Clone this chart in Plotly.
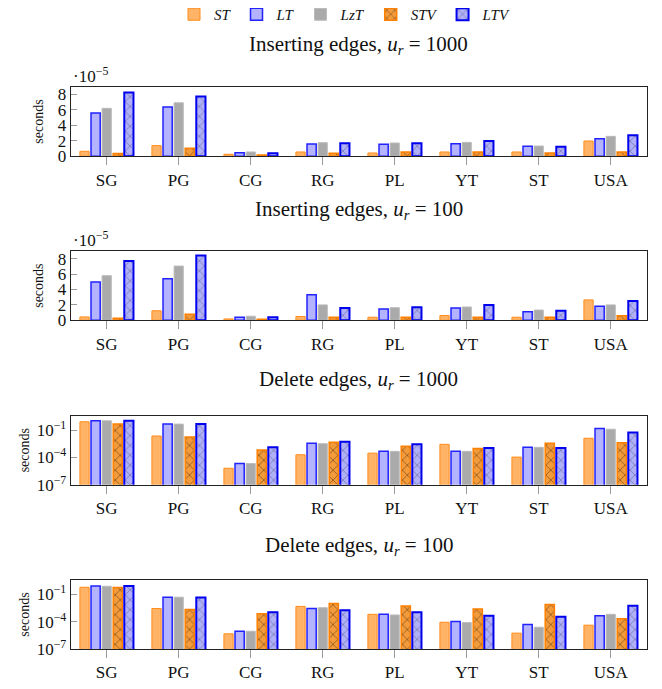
import plotly.graph_objects as go

categories = ["SG", "PG", "CG", "RG", "PL", "YT", "ST", "USA"]
series_names = ["ST", "LT", "LzT", "STV", "LTV"]

# Inserting edges, u_r = 1000 (units of 1e-5 seconds)
ins1000_ST = [0.65, 1.38, 0.26, 0.56, 0.43, 0.56, 0.56, 1.98]
ins1000_LT = [5.6, 6.37, 0.47, 1.59, 1.55, 1.63, 1.29, 2.28]
ins1000_LzT = [6.2, 6.92, 0.56, 1.76, 1.72, 1.8, 1.33, 2.58]
ins1000_STV = [0.35, 1.03, 0.17, 0.39, 0.56, 0.56, 0.43, 0.56]
ins1000_LTV = [8.26, 7.74, 0.39, 1.68, 1.68, 1.98, 1.25, 2.71]

# Inserting edges, u_r = 100 (units of 1e-5 seconds)
ins100_ST = [0.44, 1.24, 0.18, 0.49, 0.4, 0.62, 0.4, 2.65]
ins100_LT = [4.96, 5.4, 0.4, 3.32, 1.46, 1.6, 1.1, 1.81]
ins100_LzT = [5.8, 7.04, 0.53, 2.0, 1.64, 1.73, 1.33, 2.0]
ins100_STV = [0.27, 0.8, 0.13, 0.4, 0.4, 0.4, 0.4, 0.58]
ins100_LTV = [7.7, 8.4, 0.4, 1.6, 1.68, 2.0, 1.24, 2.52]

# Delete edges, u_r = 1000 (seconds)
del1000_ST = [0.85, 0.023, 6.5e-6, 2.0e-4, 3.0e-4, 2.8e-3, 1.1e-4, 0.013]
del1000_LT = [1.1, 0.47, 2.1e-5, 3.6e-3, 4.7e-4, 4.7e-4, 1.3e-3, 0.155]
del1000_LzT = [1.1, 0.47, 2.1e-5, 3.3e-3, 4.7e-4, 4.7e-4, 1.3e-3, 0.13]
del1000_STV = [0.5, 0.018, 6.5e-4, 4.7e-3, 1.7e-3, 1.0e-3, 3.6e-3, 4.3e-3]
del1000_LTV = [1.1, 0.5, 1.3e-3, 5.5e-3, 2.8e-3, 1.1e-3, 1.1e-3, 0.055]

# Delete edges, u_r = 100 (seconds)
del100_ST = [0.63, 2.9e-3, 4.7e-6, 4.9e-3, 6.6e-4, 8.9e-5, 5.6e-6, 4.2e-5]
del100_LT = [0.89, 0.051, 9.1e-6, 2.8e-3, 6.6e-4, 1.1e-4, 4.9e-5, 4.7e-4]
del100_LzT = [0.81, 0.051, 9.1e-6, 3.5e-3, 5.6e-4, 8.1e-5, 2.5e-5, 6.6e-4]
del100_STV = [0.58, 2.3e-3, 7.8e-4, 0.0105, 5.4e-3, 2.5e-3, 8.1e-3, 2.2e-4]
del100_LTV = [0.89, 0.047, 1.1e-3, 1.9e-3, 1.1e-3, 4.7e-4, 3.6e-4, 5.8e-3]

panels = [
    ("Inserting edges, <i>u<sub>r</sub></i> = 1000",
     [ins1000_ST, ins1000_LT, ins1000_LzT, ins1000_STV, ins1000_LTV], False),
    ("Inserting edges, <i>u<sub>r</sub></i> = 100",
     [ins100_ST, ins100_LT, ins100_LzT, ins100_STV, ins100_LTV], False),
    ("Delete edges, <i>u<sub>r</sub></i> = 1000",
     [del1000_ST, del1000_LT, del1000_LzT, del1000_STV, del1000_LTV], True),
    ("Delete edges, <i>u<sub>r</sub></i> = 100",
     [del100_ST, del100_LT, del100_LzT, del100_STV, del100_LTV], True),
]

# The page body has an 8px margin, so the figure is offset by 8px.
OFF = 8
W, H = 646, 673
x0, x1 = 70.7 - OFF, 646.7 - OFF
panel_px = [(86.7, 156.3), (251.0, 320.3), (415.7, 484.7), (580.0, 649.0)]
title_px = [45, 210, 380, 546]

styles = [
    dict(color="#FFB366", line=dict(color="#FF8C1A", width=1), pattern=None),
    dict(color="#B3B3FF", line=dict(color="#2222FF", width=1.5), pattern=None),
    dict(color="#AAAAAA", line=dict(color="#BBBBBB", width=1), pattern=None),
    dict(color="#F39A3A", line=dict(color="#FF8000", width=1.5),
         pattern=dict(shape="x", fgcolor="#221508", size=7, solidity=0.22)),
    dict(color="#B0B0F8", line=dict(color="#0000EE", width=2),
         pattern=dict(shape="x", fgcolor="#44446e", size=7, solidity=0.22)),
]

FONT = "Liberation Serif"
TICK = dict(family=FONT, size=17, color="#111")
YTITLE = dict(family=FONT, size=14, color="#111")
fig = go.Figure()
annotations = []

for i, (title, data, is_log) in enumerate(panels):
    ax = "" if i == 0 else str(i + 1)
    for j, vals in enumerate(data):
        st = styles[j]
        marker = dict(color=st["color"], line=st["line"])
        if st["pattern"]:
            marker["pattern"] = st["pattern"]
        fig.add_trace(go.Bar(
            x=categories, y=vals, name="<i>" + series_names[j] + "</i>",
            marker=marker, xaxis="x" + ax, yaxis="y" + ax,
            showlegend=(i == 0),
        ))
    top, bot = panel_px[i]
    top -= OFF
    bot -= OFF
    dom = [1 - bot / H, 1 - top / H]
    xkey = "xaxis" + ax
    ykey = "yaxis" + ax
    fig.layout[xkey] = dict(
        domain=[x0 / W, x1 / W], anchor="y" + ax, range=[-0.5, 7.5],
        showline=True, mirror=True, linecolor="#222", linewidth=1,
        ticks="outside", ticklen=8, tickcolor="#999",
        tickfont=TICK, showgrid=False,
    )
    if is_log:
        fig.layout[ykey] = dict(
            domain=dom, anchor="x" + ax, type="log", range=[-7, 0.6],
            tickvals=[1e-7, 1e-4, 1e-1],
            ticktext=["10<sup>−7</sup>", "10<sup>−4</sup>", "10<sup>−1</sup>"],
            showline=True, mirror=True, linecolor="#222", linewidth=1,
            ticks="inside", ticklen=6, tickcolor="#999", showgrid=False,
            tickfont=TICK,
            title=dict(text="seconds", font=YTITLE, standoff=3),
        )
    else:
        fig.layout[ykey] = dict(
            domain=dom, anchor="x" + ax, range=[0, 9],
            tickvals=[0, 2, 4, 6, 8],
            showline=True, mirror=True, linecolor="#222", linewidth=1,
            ticks="inside", ticklen=6, tickcolor="#999", showgrid=False,
            zeroline=False, tickfont=TICK,
            title=dict(text="seconds", font=YTITLE, standoff=10),
        )
        annotations.append(dict(
            text="·10<sup>−5</sup>", x=(71 - OFF) / W, y=1 - (top - 12) / H,
            xref="paper", yref="paper", xanchor="left", yanchor="middle",
            showarrow=False, font=dict(family=FONT, size=17, color="#111"),
        ))
    annotations.append(dict(
        text=title, x=(x0 + x1) / 2 / W, y=1 - (title_px[i] - OFF) / H,
        xref="paper", yref="paper", xanchor="center", yanchor="middle",
        showarrow=False, font=dict(family=FONT, size=21, color="#111"),
    ))

fig.update_layout(
    width=W, height=H,
    margin=dict(l=0, r=0, t=0, b=0, autoexpand=False),
    plot_bgcolor="white", paper_bgcolor="white",
    barmode="group", bargap=0.23, bargroupgap=0.17,
    annotations=annotations,
    legend=dict(orientation="h", x=(345 - OFF) / W, y=1 + 10 / H,
                xanchor="center", yanchor="top",
                font=dict(family=FONT, size=15, color="#111"),
                itemwidth=30, traceorder="normal"),
    font=dict(family=FONT),
)

fig.write_html("out.html")
